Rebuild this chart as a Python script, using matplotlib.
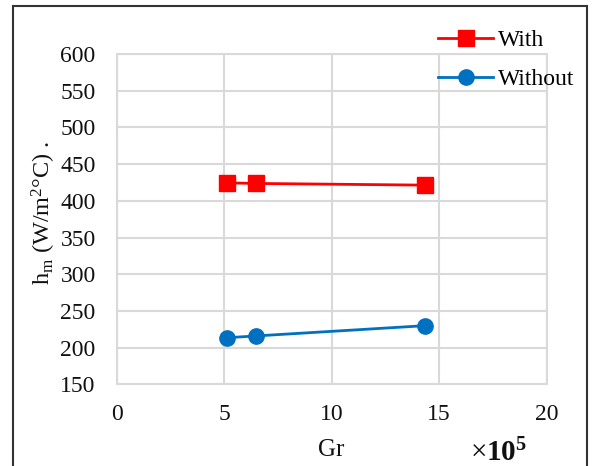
import matplotlib
matplotlib.use("Agg")
import matplotlib.pyplot as plt
from matplotlib.patches import Rectangle

gr = [5.15, 6.49, 14.35]
with_vals = [424.5, 423.7, 421.4]
without_vals = [213.6, 216.0, 230.0]
xticks = [0, 5, 10, 15, 20]
yticks = [150, 200, 250, 300, 350, 400, 450, 500, 550, 600]

plt.rcParams['font.family'] = ['Liberation Serif', 'DejaVu Serif']
plt.rcParams['mathtext.fontset'] = 'custom'
plt.rcParams['mathtext.rm'] = 'Liberation Serif'
plt.rcParams['mathtext.it'] = 'Liberation Serif:italic'
plt.rcParams['mathtext.bf'] = 'Liberation Serif:bold'

W, H = 599, 466
fig = plt.figure(figsize=(W/100, H/100), dpi=100)
ax = fig.add_axes([116.5/W, 1-384.4/H, (546.5-116.5)/W, (384.4-54)/H])

l1, = ax.plot(gr, with_vals, color='#FF0000', marker='s', markersize=11, lw=2, label='With')
l2, = ax.plot(gr, without_vals, color='#0070C0', marker='o', markersize=11, lw=2, label='Without')

ax.set_xlim(0, 20)
ax.set_ylim(150, 600)
ax.set_xticks(xticks)
ax.set_yticks(yticks)
ax.grid(True, color='#d9d9d9', lw=1.5)
for s in ax.spines.values():
    s.set_color('#d9d9d9')
    s.set_linewidth(1.5)
ax.tick_params(length=0, labelsize=17, colors='#111111')
ax.tick_params(axis='y', pad=15)
ax.tick_params(axis='x', pad=14)
ax.set_axisbelow(True)

ax.set_xlabel('Gr', fontsize=18, labelpad=10, color='#111111')
ax.set_ylabel(r'h$_{\rm m}$ (W/m$^{2}$°C) .', fontsize=17.5, color='#111111')
ax.yaxis.set_label_coords(-0.135, 0.52)

fig.text(470/W, 1-453/H, r'$\times\mathbf{10^{5}}$', fontsize=21, va='center', ha='left', color='#111111')

fig.legend(handles=[l1, l2], loc='upper left', bbox_to_anchor=(429/W, 1-20/H), frameon=False,
           fontsize=17, handlelength=2.3, handletextpad=0.2, labelspacing=0.75, borderaxespad=0)

fig.patches.append(Rectangle((13/W, -0.1), (587-13)/W, 1.1-6/H, transform=fig.transFigure,
                             fill=False, edgecolor='#333333', lw=1.5))

fig.savefig('out.png', dpi=100)
